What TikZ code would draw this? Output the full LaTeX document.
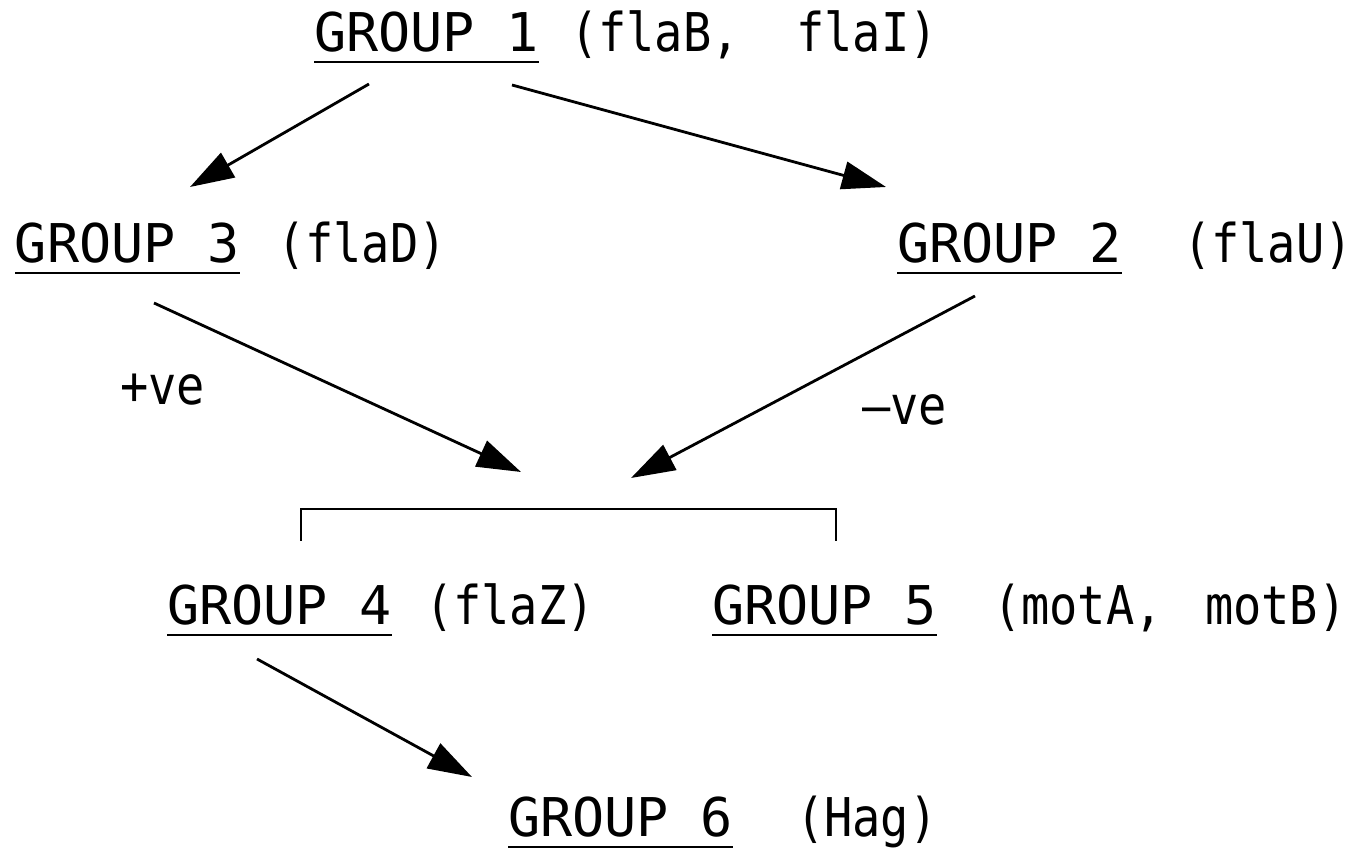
\documentclass[tikz,border=0pt]{standalone}
\usepackage{fontspec}
\usepackage{graphicx}
\setmonofont{DejaVu Sans Mono}
\usetikzlibrary{arrows.meta}
\tikzset{
  grp/.style={anchor=base west, inner sep=0pt, outer sep=0pt, font=\ttfamily\fontsize{26.7pt}{30pt}\selectfont},
  gene/.style={anchor=base west, inner sep=0pt, outer sep=0pt, font=\ttfamily\fontsize{26.7pt}{30pt}\selectfont},
  sign/.style={anchor=base west, inner sep=0pt, outer sep=0pt, font=\ttfamily\fontsize{26.7pt}{30pt}\selectfont},
  uline/.style={line width=1.3pt},
  conn/.style={line width=1.4pt, -{Triangle[length=22pt, width=14pt]}},
  brack/.style={line width=1.1pt}
}
\newcommand{\gtxt}[1]{\scalebox{0.88}[1]{#1}}
\begin{document}
\begin{tikzpicture}[x=0.5pt, y=-0.5pt]
\useasboundingbox (0,0) rectangle (1356,849);
% group labels
\node[grp] (g1) at (314,52) {GROUP 1};
\node[gene] (p1) at (570,52) {\gtxt{(flaB,\ \ flaI)}};
\node[grp] (g3) at (15,263) {GROUP 3};
\node[gene] (p3) at (277,263) {\gtxt{(flaD)}};
\node[grp] (g2) at (897,263) {GROUP 2};
\node[gene] (p2) at (1183,263) {\gtxt{(flaU)}};
\node[grp] (g4) at (167,625) {GROUP 4};
\node[gene] (p4) at (425,625) {\gtxt{(flaZ)}};
\node[grp] (g5) at (712,625) {GROUP 5};
\node[gene] (p5) at (993,625) {\gtxt{(motA,\ \hspace{0.3em}motB)}};
\node[grp] (g6) at (508,837) {GROUP 6};
\node[gene] (p6) at (796,837) {\gtxt{(Hag)}};
\node[sign] (plus) at (120,405) {\gtxt{+ve}};
\node[sign] (minus) at (862,425) {\gtxt{–ve}};
% underlines
\foreach \g in {g1,g2,g3,g4,g5,g6}
  \draw[uline] ([yshift=-5pt]\g.base west) -- ([yshift=-5pt]\g.base east);
% arrow end points
\coordinate (a1s) at (369,84);  \coordinate (a1e) at (190,187);
\coordinate (a2s) at (512,85);  \coordinate (a2e) at (886,187);
\coordinate (a3s) at (154,303); \coordinate (a3e) at (521,472);
\coordinate (a4s) at (975,296); \coordinate (a4e) at (631,478);
\coordinate (a5s) at (257,659); \coordinate (a5e) at (472,777);
\draw[conn] (a1s) -- (a1e);
\draw[conn] (a2s) -- (a2e);
\draw[conn] (a3s) -- (a3e);
\draw[conn] (a4s) -- (a4e);
\draw[conn] (a5s) -- (a5e);
% bracket
\coordinate (bl) at (301,541); \coordinate (br) at (836,541);
\draw[brack] (bl) -- ++(0,-32) -- ++(535,0) -- (br);
\end{tikzpicture}
\end{document}
